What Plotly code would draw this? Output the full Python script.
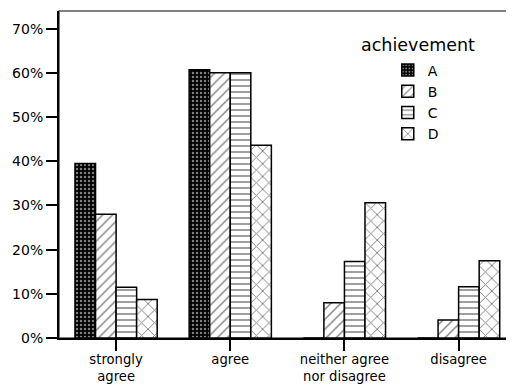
import plotly.graph_objects as go

categories = ["strongly<br>agree", "agree", "neither agree<br>nor disagree", "disagree"]
series_names = ["A", "B", "C", "D"]
values_A = [39.5, 60.7, 0.0, 0.0]
values_B = [28.0, 60.0, 8.0, 4.1]
values_C = [11.5, 60.0, 17.3, 11.6]
values_D = [8.7, 43.6, 30.6, 17.5]
y_ticks = [0, 10, 20, 30, 40, 50, 60, 70]
y_tick_labels = [f"{v}%" for v in y_ticks]

series_values = [values_A, values_B, values_C, values_D]
patterns = [
    dict(shape=".", bgcolor="black", fgcolor="white", size=4, solidity=0.3),
    dict(shape="/", bgcolor="white", fgcolor="black", size=7, solidity=0.2),
    dict(shape="-", bgcolor="white", fgcolor="black", size=6, solidity=0.25),
    dict(shape="x", bgcolor="white", fgcolor="black", size=9, solidity=0.2),
]

FONT = "DejaVu Sans"
fig = go.Figure()
for i, (name, vals, pat) in enumerate(zip(series_names, series_values, patterns)):
    fig.add_trace(go.Bar(
        x=categories, y=vals, name=name,
        marker=dict(color=pat["bgcolor"], pattern=pat,
                    line=dict(color="black", width=1.5)),
    ))

# page body adds an 8px offset, so the figure is sized to fit the window
fig.update_layout(
    width=506, height=377,
    margin=dict(l=51, r=4, t=3, b=47, autoexpand=False),
    paper_bgcolor="white", plot_bgcolor="white",
    barmode="group", bargap=0.28, bargroupgap=0,
    font=dict(family=FONT, size=14, color="black"),
    showlegend=True,
    legend=dict(x=0.729, y=0.867, xanchor="left", yanchor="top",
                font=dict(family=FONT, size=14, color="black"),
                tracegroupgap=0, bgcolor="rgba(0,0,0,0)"),
    shapes=[dict(type="rect", xref="paper", yref="paper", x0=0, y0=0, x1=1, y1=1,
                 line=dict(color="#555555", width=1.5), layer="below")],
    annotations=[dict(text="achievement", xref="paper", yref="paper",
                      x=0.797, y=0.896, xanchor="center", yanchor="middle",
                      showarrow=False, font=dict(family=FONT, size=17.5, color="black"))],
)
fig.update_xaxes(showgrid=False, showline=True, linecolor="black", linewidth=2,
                 ticks="outside", ticklen=11, tickwidth=1.5, tickcolor="black",
                 automargin=False, ticklabelstandoff=-3,
                 tickfont=dict(family=FONT, size=13.2), range=[-0.5, 3.45])
fig.update_yaxes(showgrid=False, showline=True, linecolor="black", linewidth=2,
                 ticks="outside", ticklen=11, tickwidth=1.5, tickcolor="black",
                 automargin=False,
                 tickvals=y_ticks, ticktext=y_tick_labels, range=[0, 74],
                 zeroline=False, tickfont=dict(family=FONT, size=14))

fig.write_html("out.html")
